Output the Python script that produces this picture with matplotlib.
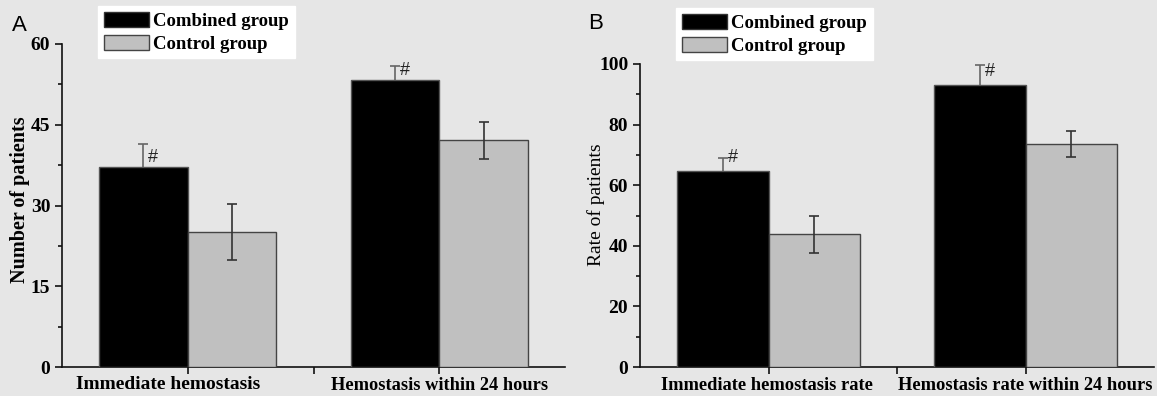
import matplotlib
matplotlib.use("Agg")
import matplotlib.pyplot as plt
import numpy as np
from matplotlib.patches import Patch
from matplotlib.transforms import ScaledTranslation

# Data
cats_a = ["Immediate hemostasis", "Hemostasis within 24 hours"]
comb_a = [37.2, 53.3]
comb_a_err = [4.3, 2.7]
ctrl_a = [25.1, 42.1]
ctrl_a_err = [5.25, 3.5]

cats_b = ["Immediate hemostasis rate", "Hemostasis rate within 24 hours"]
comb_b = [64.8, 93.0]
comb_b_err = [4.3, 6.7]
ctrl_b = [43.8, 73.7]
ctrl_b_err = [6.1, 4.3]

BG = "#e6e6e6"
BLACK = "#000000"
GRAY = "#c0c0c0"
serif = ["Liberation Serif", "DejaVu Serif"]
sans = ["Liberation Sans", "DejaVu Sans"]

fig = plt.figure(figsize=(11.57, 3.96), dpi=100, facecolor=BG)
axA = fig.add_axes([62/1157, 29/396, 503/1157, 323/396])
axB = fig.add_axes([640/1157, 29/396, 514/1157, 303/396])

def draw(ax, cats, comb, comb_err, ctrl, ctrl_err, ymax, step, width, hash_dy):
    ax.set_facecolor(BG)
    x = np.arange(len(cats))
    ax.bar(x - width/2, comb, width, color=BLACK, edgecolor="#555555", linewidth=1, zorder=3)
    ax.bar(x + width/2, ctrl, width, color=GRAY, edgecolor="#444444", linewidth=1, zorder=3)
    ax.errorbar(x - width/2, comb, yerr=comb_err, fmt="none", ecolor="#666666",
                elinewidth=1.2, capsize=3.5, capthick=1.2, zorder=2)
    ax.errorbar(x + width/2, ctrl, yerr=ctrl_err, fmt="none", ecolor="#333333",
                elinewidth=1.2, capsize=3.5, capthick=1.2, zorder=4)
    for xi, v in zip(x - width/2, comb):
        ax.annotate("#", (xi, v), xytext=(3.5, hash_dy), textcoords="offset points",
                    ha="left", va="bottom", fontsize=13, family=sans, color="#222222")
    ax.set_xlim(-0.5, 1.5)
    ax.set_ylim(0, ymax)
    ax.set_xticks([0, 0.5, 1])
    ax.set_yticks(np.arange(0, ymax + 0.1, step))
    ax.set_yticks(np.arange(step/2, ymax, step), minor=True)
    for s in ["top", "right"]:
        ax.spines[s].set_visible(False)
    for s in ["left", "bottom"]:
        ax.spines[s].set_linewidth(1.2)
        ax.spines[s].set_color("#111111")
    ax.tick_params(axis="both", which="major", direction="out", length=5, width=1.2, color="#111111")
    ax.tick_params(axis="x", which="major", pad=2)
    ax.tick_params(axis="y", which="minor", direction="out", length=3, width=1.2, color="#111111")
    for lab in ax.get_yticklabels():
        lab.set_fontfamily(serif)
        lab.set_fontweight("bold")
        lab.set_fontsize(14)

draw(axA, cats_a, comb_a, comb_a_err, ctrl_a, ctrl_a_err, 60, 15, 0.352, 0.5)
draw(axB, cats_b, comb_b, comb_b_err, ctrl_b, ctrl_b_err, 100, 20, 0.355, 3.5)

axA.set_xticklabels([cats_a[0], "", cats_a[1]])
labsA = axA.get_xticklabels()
labsA[0].set_fontsize(14)
labsA[2].set_fontsize(13.2)
for lab in labsA:
    lab.set_fontfamily(serif)
    lab.set_fontweight("bold")
labsA[0].set_transform(labsA[0].get_transform() + ScaledTranslation(-0.2, 0.01, fig.dpi_scale_trans))

axB.set_xticklabels([cats_b[0], "", cats_b[1]])
labsB = axB.get_xticklabels()
for lab in labsB:
    lab.set_fontfamily(serif)
    lab.set_fontweight("bold")
    lab.set_fontsize(13.3)
labsB[0].set_transform(labsB[0].get_transform() + ScaledTranslation(-0.02, 0, fig.dpi_scale_trans))

axA.set_ylabel("Number of patients", fontsize=14.5, fontweight="bold", family=serif)
axA.yaxis.set_label_coords(-0.064, 0.517)
axB.set_ylabel("Rate of patients", fontsize=14, family=serif)
axB.yaxis.set_label_coords(-0.069, 0.535)

fig.text(12/1157, 1 - 31/396, "A", fontsize=16, family=sans)
fig.text(588/1157, 1 - 29/396, "B", fontsize=16, family=sans)

handles = [Patch(facecolor=BLACK, edgecolor="#333333", label="Combined group"),
           Patch(facecolor=GRAY, edgecolor="#444444", label="Control group")]
for lx, ly in [(98/1157, 1 - 6/396), (676/1157, 1 - 8/396)]:
    leg = fig.legend(handles=handles, loc="upper left", bbox_to_anchor=(lx, ly),
                     frameon=True, fancybox=False, framealpha=1, edgecolor="white",
                     facecolor="white", prop={"family": serif, "weight": "bold", "size": 13.5},
                     handlelength=2.4, handleheight=0.9, handletextpad=0.25,
                     labelspacing=0.25, borderpad=0.3, borderaxespad=0)

fig.savefig("out.png", dpi=100, facecolor=BG)
